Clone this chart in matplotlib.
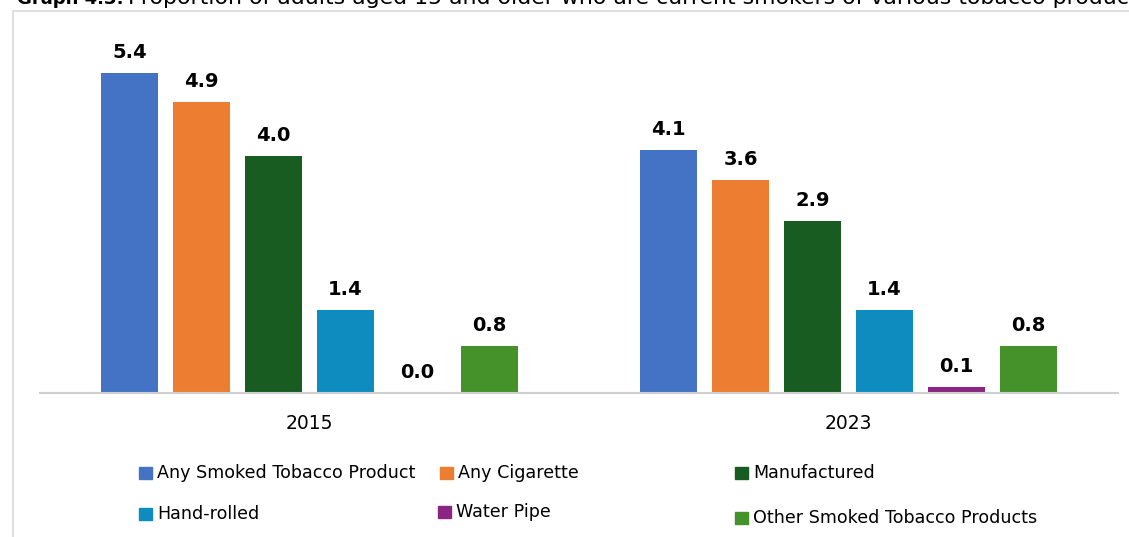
import matplotlib.pyplot as plt
from matplotlib.patches import Rectangle
import numpy as np

years = ['2015', '2023']
products = ['Any Smoked Tobacco Product', 'Any Cigarette', 'Manufactured',
            'Hand-rolled', 'Water Pipe', 'Other Smoked Tobacco Products']
values_2015 = [5.4, 4.9, 4.0, 1.4, 0.0, 0.8]
values_2023 = [4.1, 3.6, 2.9, 1.4, 0.1, 0.8]
colors = ['#4472C4', '#ED7D31', '#185C22', '#0E8CC0', '#8B2584', '#45912A']

W, H = 1129, 537
fig = plt.figure(figsize=(W / 100, H / 100), dpi=100)

# grey frame, runs off the right and bottom edges
fig.patches.append(Rectangle((13 / W, -0.1), 1.2, 1 - 11 / H + 0.1,
                             transform=fig.transFigure, fill=False,
                             edgecolor='#d9d9d9', linewidth=1.2, clip_on=False))

# title line, partly cut at the top
fig.text(17 / W, 1 - 4 / H, 'Graph 4.3:', fontsize=13, fontweight='bold', va='baseline')
fig.text(128 / W, 1 - 4 / H,
         'Proportion of adults aged 15 and older who are current smokers of various tobacco products',
         fontsize=15.8, va='baseline')

ax = fig.add_axes([40 / W, (H - 393) / H, 1078 / W, 6 * 59.3 / H])
x = np.arange(len(years))
bw = 57 / 539
step = 72 / 539
data = np.array([values_2015, values_2023])
for i, p in enumerate(products):
    xs = x + (i - 2.5) * step
    ax.bar(xs, data[:, i], width=bw, color=colors[i])
    for xi, v in zip(xs, data[:, i]):
        ax.annotate(f'{v:.1f}', (xi, v), xytext=(0, 10.8), textcoords='offset points',
                    ha='center', va='baseline', fontsize=14, fontweight='bold')

ax.set_xlim(-0.5, 1.5)
ax.set_ylim(0, 6)
ax.set_yticks([])
ax.set_xticks(x)
ax.set_xticklabels(years, fontsize=13.5)
ax.tick_params(axis='x', length=0, pad=15)
for s in ['top', 'right', 'left']:
    ax.spines[s].set_visible(False)
ax.spines['bottom'].set_color('#d0d0d0')
ax.spines['bottom'].set_linewidth(1.5)

# legend laid out by hand in three columns
leg_x = [139, 440, 735, 139, 438, 735]
leg_y = [473, 473, 473, 514, 512, 518]
for i, p in enumerate(products):
    fig.patches.append(Rectangle((leg_x[i] / W, 1 - (leg_y[i] + 6) / H), 13 / W, 12 / H,
                                 transform=fig.transFigure, color=colors[i]))
    fig.text((leg_x[i] + 18) / W, 1 - leg_y[i] / H, p, fontsize=12.6, va='center')

fig.savefig('out.png', dpi=100)
